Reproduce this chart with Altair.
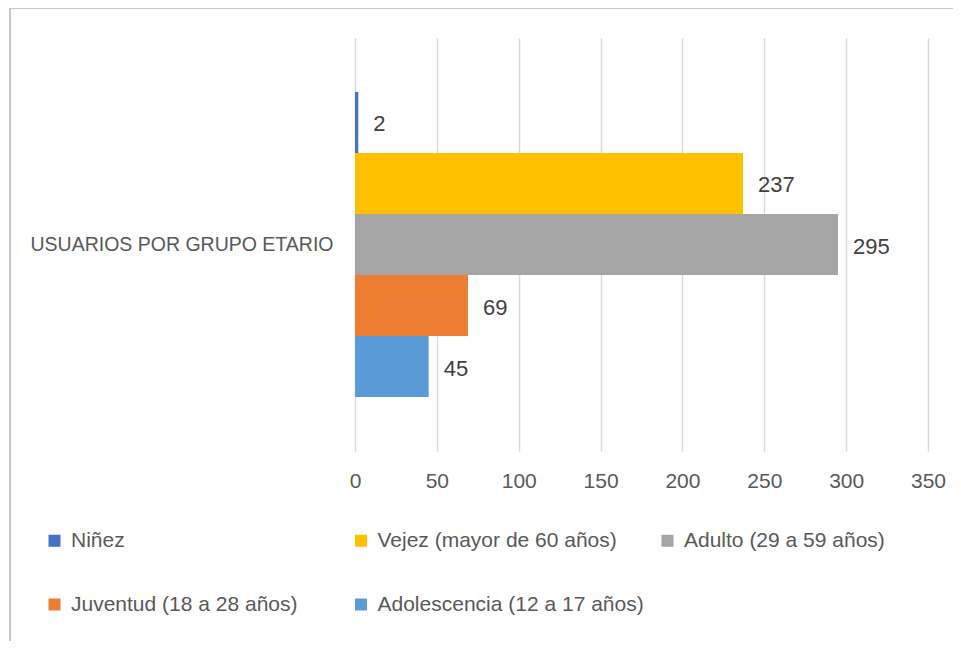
import altair as alt
import pandas as pd

category = ["USUARIOS POR GRUPO ETARIO"] * 5
series = ["Niñez", "Vejez (mayor de 60 años)", "Adulto (29 a 59 años)",
          "Juventud (18 a 28 años)", "Adolescencia (12 a 17 años)"]
values = [2, 237, 295, 69, 45]
colors = ["#4472C4", "#FFC000", "#A5A5A5", "#ED7D31", "#5B9BD5"]
x_ticks = [0, 50, 100, 150, 200, 250, 300, 350]

df = pd.DataFrame({"cat": category, "serie": series, "valor": values})

FONT = "Liberation Sans, Arial, sans-serif"

y_enc = alt.Y("cat:N", title=None,
              scale=alt.Scale(paddingInner=0, paddingOuter=0.177),
              axis=alt.Axis(ticks=False, domain=False, labelPadding=22,
                            labelFontSize=19.5, labelColor="#595959", labelFont=FONT,
                            labelLimit=400))
yoff = alt.YOffset("serie:N", sort=series, scale=alt.Scale(paddingInner=0, paddingOuter=0))
x_enc = alt.X("valor:Q", title=None,
              scale=alt.Scale(domain=[0, 350], nice=False),
              axis=alt.Axis(values=x_ticks, grid=True, gridColor="#D9D9D9", gridWidth=1.5,
                            domain=False, ticks=False, labelPadding=19, labelFlush=False,
                            labelFontSize=21, labelColor="#595959", labelFont=FONT))

bars = alt.Chart(df).mark_bar(size=61).encode(
    y=y_enc, yOffset=yoff, x=x_enc,
    color=alt.Color("serie:N", sort=series,
                    scale=alt.Scale(domain=series, range=colors),
                    legend=alt.Legend(title=None, orient="none", legendX=-311, legendY=492,
                                      columns=3, direction="horizontal", gridAlign="all",
                                      symbolType="square", symbolSize=144, symbolStrokeWidth=0,
                                      labelFontSize=21, labelColor="#595959", labelFont=FONT,
                                      symbolOffset=0, labelOffset=6, columnPadding=12.5,
                                      rowPadding=42, labelLimit=400)),
)

labels = alt.Chart(df).mark_text(align="left", dx=15, dy=2, fontSize=22, color="#404040",
                                 font=FONT).encode(
    y=alt.Y("cat:N", title=None), yOffset=alt.YOffset("serie:N", sort=series),
    x="valor:Q", text="valor:Q",
)

top_border = alt.Chart(df).mark_rule(color="#C8C8C8", strokeWidth=2, clip=False).encode(
    x=alt.value(-345), x2=alt.value(620), y=alt.value(-30))
left_border = alt.Chart(df).mark_rule(color="#C8C8C8", strokeWidth=2, clip=False).encode(
    x=alt.value(-345), y=alt.value(-30), y2=alt.value(620))

chart = alt.layer(bars, labels, top_border, left_border).properties(
    width=573, height=413,
    autosize=alt.AutoSizeParams(type="none"),
    padding={"left": 347, "top": 30, "right": 25, "bottom": 190},
    background="white",
).configure_view(stroke=None)

chart.save("out.html", embed_options={"renderer": "svg", "actions": False})
